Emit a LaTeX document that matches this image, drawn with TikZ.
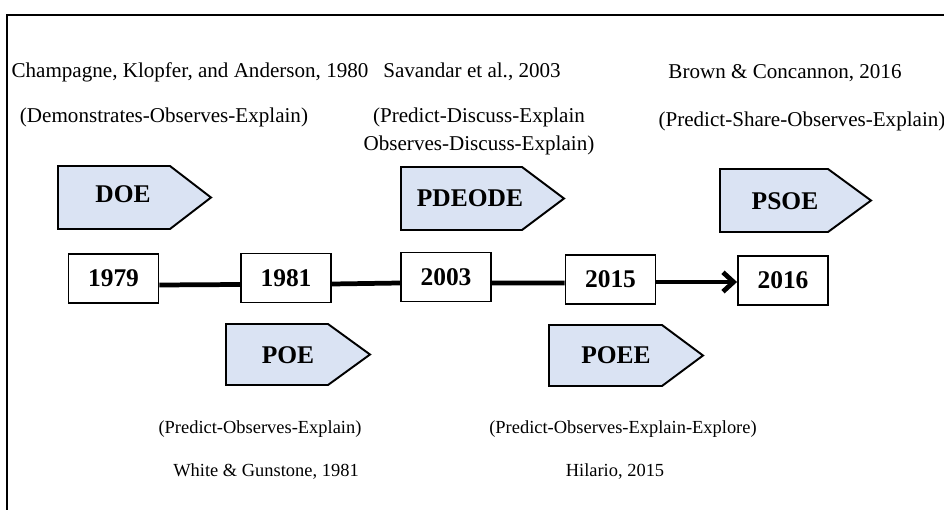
\documentclass[tikz,border=0pt]{standalone}
\usepackage{fontspec}
\setmainfont{Liberation Serif}
\usetikzlibrary{arrows.meta}

\definecolor{stagefill}{HTML}{DAE3F3}

\tikzset{
  yearbox/.style={draw=black, line width=1.1pt, fill=white, minimum width=1.8cm,
    minimum height=0.98cm, inner sep=0pt, font=\fontsize{14.5}{16}\selectfont\bfseries},
  stage/.style={draw=black, line width=1.1pt, fill=stagefill, line join=miter},
  stagename/.style={inner sep=0pt, font=\fontsize{14.5}{16}\selectfont\bfseries},
  authortext/.style={inner sep=0pt, font=\fontsize{12}{14}\selectfont},
  phasetext/.style={inner sep=0pt, align=center, font=\fontsize{12}{16}\selectfont},
  lowtext/.style={inner sep=0pt, font=\fontsize{10.5}{12}\selectfont},
  timeline/.style={line width=2.7pt},
}

\begin{document}
\begin{tikzpicture}[x=0.02cm, y=-0.02cm]

\useasboundingbox (0,0) rectangle (944,510);

\draw[line width=1.1pt] (7,510) -- (7,15) -- (944,15);

% authors and phases above the line
\node[authortext] (champagne) at (190,72) {Champagne, Klopfer, and Anderson, 1980};
\node[authortext] (savandar) at (472,72) {Savandar et al., 2003};
\node[authortext] (brown) at (785,73) {Brown \& Concannon, 2016};

\node[phasetext] (doephases) at (164,117) {(Demonstrates-Observes-Explain)};
\node[phasetext] (pdeodephases) at (479,131) {(Predict-Discuss-Explain\\Observes-Discuss-Explain)};
\node[phasetext] (psoephases) at (802,121) {(Predict-Share-Observes-Explain)};

% stages
\draw[stage] (58,166) -- (170,166) -- (211,197.5) -- (170,229) -- (58,229) -- cycle;
\node[stagename] (doe) at (123,194) {DOE};

\draw[stage] (401,167) -- (522,167) -- (564,198.5) -- (522,230) -- (401,230) -- cycle;
\node[stagename] (pdeode) at (470,198) {PDEODE};

\draw[stage] (720,169) -- (828,169) -- (871,200.5) -- (828,232) -- (720,232) -- cycle;
\node[stagename] (psoe) at (785,201) {PSOE};

\draw[stage] (226,324) -- (328,324) -- (370,354.5) -- (328,385) -- (226,385) -- cycle;
\node[stagename] (poe) at (288,355) {POE};

\draw[stage] (549,325) -- (662,325) -- (703,355.5) -- (662,386) -- (549,386) -- cycle;
\node[stagename] (poee) at (616,355) {POEE};

% years
\node[yearbox] (y1979) at (113.5,278.5) {1979};
\node[yearbox] (y1981) at (286,278) {1981};
\node[yearbox] (y2003) at (446,277) {2003};
\node[yearbox] (y2015) at (610.5,279.5) {2015};
\node[yearbox] (y2016) at (783,280.5) {2016};

\draw[timeline] ([yshift=-0.13cm]y1979.east) -- ([yshift=-0.13cm]y1981.west);
\draw[timeline] ([yshift=-0.12cm]y1981.east) -- ([yshift=-0.12cm]y2003.west);
\draw[timeline] ([yshift=-0.12cm]y2003.east) -- ([yshift=-0.07cm]y2015.west);
\draw[timeline, -{Straight Barb[length=6pt, width=11pt, line width=2.7pt]}]
  ([yshift=-0.05cm]y2015.east) -- ([yshift=-0.03cm]y2016.west);

% phases and authors below the line
\node[lowtext] (poephases) at (260,429) {(Predict-Observes-Explain)};
\node[lowtext] (poeephases) at (623,429) {(Predict-Observes-Explain-Explore)};
\node[lowtext] (white) at (266,472) {White \& Gunstone, 1981};
\node[lowtext] (hilario) at (615,472) {Hilario, 2015};

\end{tikzpicture}
\end{document}
